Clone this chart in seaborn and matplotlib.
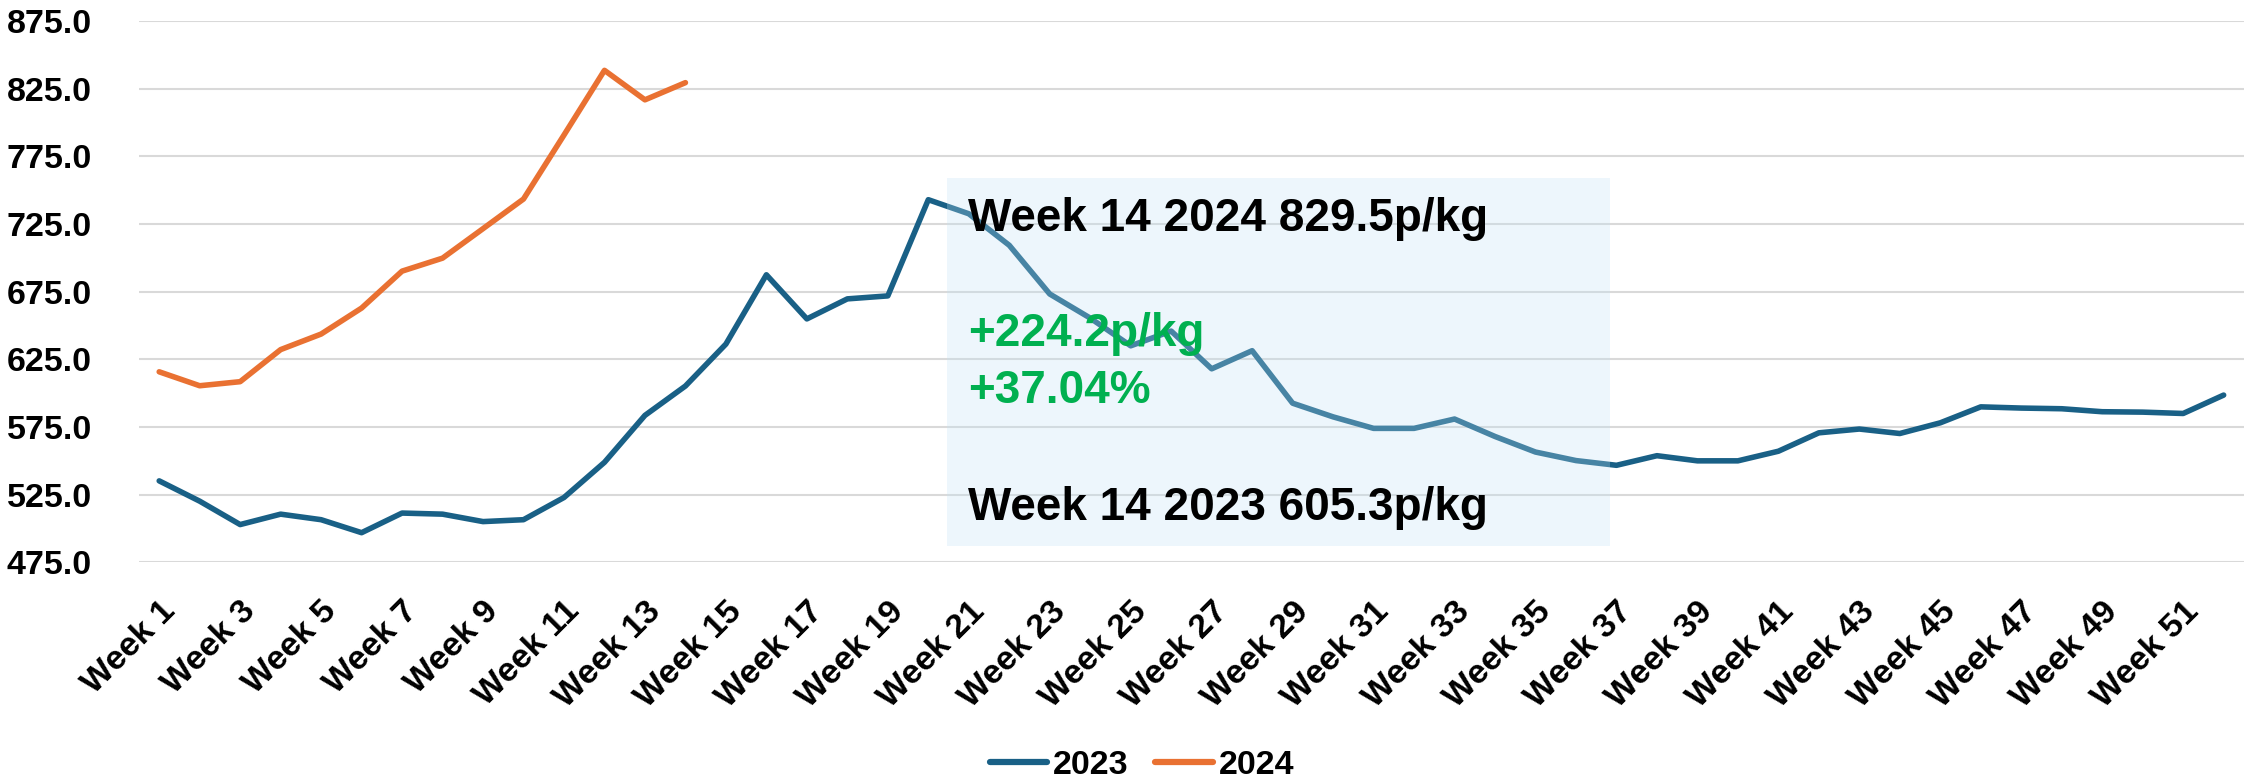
import numpy as np
import pandas as pd
import matplotlib.pyplot as plt
from matplotlib.patches import Rectangle
from matplotlib.lines import Line2D
import seaborn as sns

# weekly prices p/kg
weeks = [f'Week {i}' for i in range(1, 53)]
prices_2023 = [535.2, 520.2, 502.9, 510.6, 506.5, 496.9, 511.4, 510.6, 505.1, 506.5,
               522.9, 548.9, 583.6, 605.3, 636.3, 687.5, 654.9, 669.7, 671.9, 743.0,
               732.6, 709.3, 673.3, 655.5, 635.0, 645.9, 618.0, 631.4, 592.6, 582.5,
               574.0, 574.0, 580.9, 568.0, 556.5, 550.2, 546.7, 553.8, 550.0, 550.0,
               557.1, 570.7, 573.5, 570.2, 578.1, 589.9, 589.0, 588.5, 586.3, 586.0,
               585.0, 598.6]
prices_2024 = [615.8, 605.5, 608.5, 632.2, 643.7, 662.9, 690.2, 699.8, 721.6, 743.5,
               790.8, 838.6, 816.8, 829.5]
years = ['2023', '2024']
colors = ['#196086', '#E97132']
yticks = [475, 525, 575, 625, 675, 725, 775, 825, 875]

# long table for seaborn
df = pd.DataFrame({
    'pos': list(range(len(prices_2023))) + list(range(len(prices_2024))),
    'price': prices_2023 + prices_2024,
    'year': [years[0]] * len(prices_2023) + [years[1]] * len(prices_2024),
})

sns.set_theme(style='white')
plt.rcParams['font.family'] = ['Liberation Sans', 'DejaVu Sans']
plt.rcParams['font.weight'] = 'bold'
plt.rcParams['text.color'] = 'black'
plt.rcParams['xtick.color'] = 'black'
plt.rcParams['ytick.color'] = 'black'

fig = plt.figure(figsize=(22.52, 7.81), dpi=100)
ax = fig.add_axes([0.0617, 0.280, 0.9347, 0.693])

sns.lineplot(data=df, x='pos', y='price', hue='year', palette=dict(zip(years, colors)),
             linewidth=4.0, errorbar=None, legend=False, ax=ax)
for ln in ax.get_lines():
    ln.set_solid_capstyle('round')
    ln.set_solid_joinstyle('round')

# shaded comparison box + labels
ax.add_patch(Rectangle((19.45, 487), 16.4, 272, facecolor='#C1E2F5', alpha=0.28,
                       edgecolor='none', zorder=3))
w = 13  # week 14
diff = prices_2024[w] - prices_2023[w]
pct = diff / prices_2023[w] * 100
ax.text(19.98, 720, f'Week 14 2024 {prices_2024[w]:.1f}p/kg', fontsize=33, color='black',
        fontweight='bold', va='baseline', zorder=4)
ax.text(19.98, 635, f'+{diff:.1f}p/kg', fontsize=33, color='#00B050',
        fontweight='bold', va='baseline', zorder=4)
ax.text(19.98, 592.7, f'+{pct:.2f}%', fontsize=33, color='#00B050',
        fontweight='bold', va='baseline', zorder=4)
ax.text(19.98, 506.3, f'Week 14 2023 {prices_2023[w]:.1f}p/kg', fontsize=33, color='black',
        fontweight='bold', va='baseline', zorder=4)

# axes
ax.set_xlim(-0.5, len(weeks) - 0.5)
ax.set_ylim(475, 875)
ax.set_yticks(yticks)
ax.set_yticklabels([f'{v:.1f}' for v in yticks])
ax.set_xticks(range(0, len(weeks), 2))
ax.set_xticklabels(weeks[::2], rotation=45, ha='right', rotation_mode='anchor')
ax.tick_params(axis='y', length=0, pad=34, labelsize=24.5, labelcolor='black')
ax.tick_params(axis='x', length=0, pad=24, labelsize=24.5, labelcolor='black')
ax.set_xlabel('')
ax.set_ylabel('')
ax.yaxis.grid(True, color='#D9D9D9', linewidth=1.5)
ax.xaxis.grid(False)
ax.set_axisbelow(True)
for s in ax.spines.values():
    s.set_visible(False)

handles = [Line2D([0], [0], color=c, lw=4.5, solid_capstyle='round') for c in colors]
leg = fig.legend(handles, years, loc='lower center', bbox_to_anchor=(0.507, -0.004), ncol=2,
                 frameon=False, fontsize=24.5, handlelength=1.7, handletextpad=0.15,
                 columnspacing=0.8, borderaxespad=0, borderpad=0.1)
for t in leg.get_texts():
    t.set_color('black')

fig.savefig('out.png', dpi=100)
